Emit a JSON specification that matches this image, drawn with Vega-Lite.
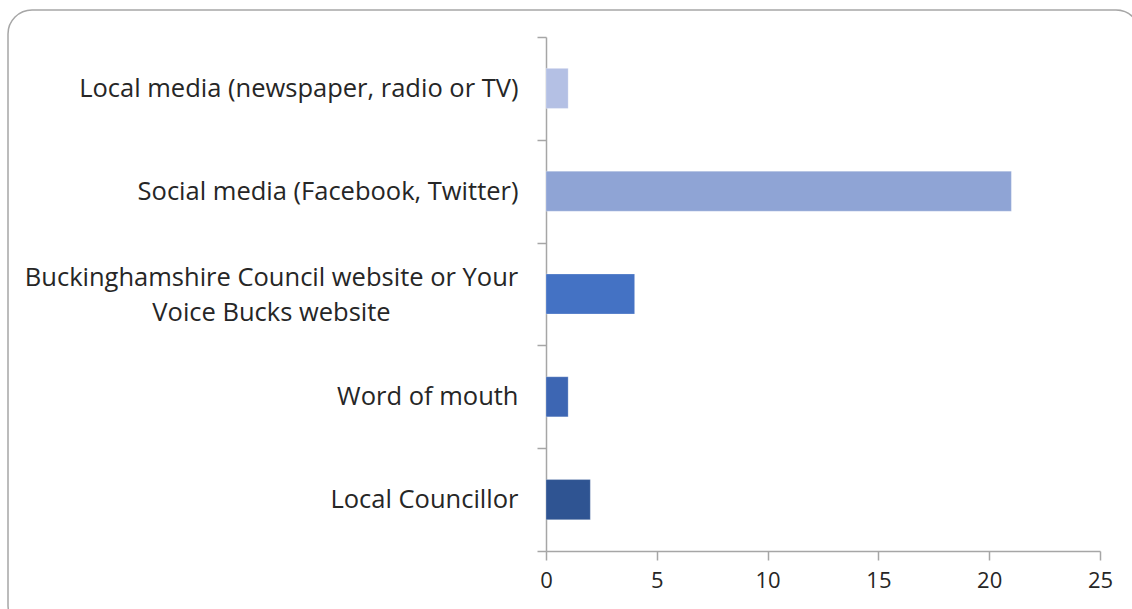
{
  "$schema": "https://vega.github.io/schema/vega-lite/v6.json",
  "width": 1132,
  "height": 620,
  "autosize": "none",
  "padding": {"left": 8, "top": 10, "right": 0, "bottom": 0},
  "background": "white",
  "config": {
    "view": {"stroke": "#A6A6A6", "strokeWidth": 1.5, "cornerRadius": 24},
    "font": "Open Sans"
  },
  "data": {
    "values": [
      {"source": "Local media (newspaper, radio or TV)", "count": 1, "color": "#B4C0E4"},
      {"source": "Social media (Facebook, Twitter)", "count": 21, "color": "#8FA4D5"},
      {"source": "Buckinghamshire Council website or Your Voice Bucks website", "count": 4, "color": "#4472C4"},
      {"source": "Word of mouth", "count": 1, "color": "#3D66B3"},
      {"source": "Local Councillor", "count": 2, "color": "#2F5492"}
    ]
  },
  "mark": {"type": "bar", "height": {"band": 0.39}, "stroke": "white", "strokeOpacity": 0.5, "strokeWidth": 0.5},
  "encoding": {
    "y": {
      "field": "source",
      "type": "nominal",
      "sort": null,
      "scale": {"range": [27, 541], "paddingInner": 0, "paddingOuter": 0},
      "axis": {
        "title": null,
        "offset": -538,
        "tickBand": "extent",
        "domainColor": "#A6A6A6",
        "domainWidth": 1.5,
        "tickColor": "#A6A6A6",
        "tickWidth": 1.5,
        "tickSize": 9,
        "labelFont": "Open Sans",
        "labelFontSize": 25.5,
        "labelColor": "#262626",
        "labelLimit": 0,
        "labelLineHeight": 35,
        "labelExpr": "datum.value == 'Buckinghamshire Council website or Your Voice Bucks website' ? ['Buckinghamshire Council website or Your', 'Voice Bucks website'] : datum.label",
        "labelAlign": {"condition": {"test": "datum.value == 'Buckinghamshire Council website or Your Voice Bucks website'", "value": "center"}, "value": "right"},
        "labelPadding": {"condition": {"test": "datum.value == 'Buckinghamshire Council website or Your Voice Bucks website'", "value": 266}, "value": 19},
        "labelOffset": {"condition": {"test": "datum.value == 'Buckinghamshire Council website or Your Voice Bucks website'", "value": -17}, "value": 0}
      }
    },
    "x": {
      "field": "count",
      "type": "quantitative",
      "scale": {"domain": [0, 25], "range": [538, 1092], "nice": false},
      "axis": {
        "title": null,
        "offset": -79,
        "values": [0, 5, 10, 15, 20, 25],
        "grid": false,
        "domainColor": "#A6A6A6",
        "domainWidth": 1.5,
        "tickColor": "#A6A6A6",
        "tickWidth": 1.5,
        "tickSize": 9,
        "labelFont": "Open Sans",
        "labelFontSize": 22,
        "labelColor": "#262626",
        "labelPadding": 10,
        "labelFlush": false
      }
    },
    "color": {"field": "color", "type": "nominal", "scale": null, "legend": null}
  }
}
